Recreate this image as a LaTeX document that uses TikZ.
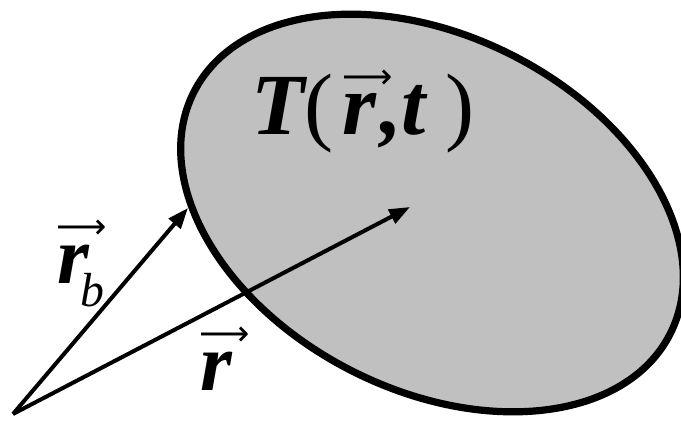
\documentclass[tikz,border=0pt]{standalone}
\usepackage{fontspec}
\setmainfont{Liberation Serif}
\newfontfamily\arrowfont{DejaVu Sans}
\usetikzlibrary{arrows.meta, positioning, shapes.geometric}
\usepackage{xcolor}
\definecolor{blobgray}{HTML}{C0C0C0}

% thin arrow set over a letter
\newsavebox{\vecbox}
\newcommand{\arrvec}[1]{\sbox{\vecbox}{#1}%
  \rlap{\hbox to\wd\vecbox{\hss\raisebox{\dimexpr\ht\vecbox+4pt\relax}{\hskip12pt%
    {\arrowfont\mdseries\upshape\fontsize{25}{25}\selectfont\char"27F6}}\hss}}%
  \usebox{\vecbox}}

\begin{document}
\begin{tikzpicture}[
    x=0.025cm, y=0.025cm,
    blob/.style={ellipse, draw=black, fill=blobgray, line width=0.18cm,
                 minimum width=13.35cm, minimum height=8.85cm,
                 inner sep=0pt, rotate=-26.9},
    vecline/.style={line width=0.1cm, -{Triangle[length=0.52cm, width=0.38cm]}},
    lbl/.style={font=\fontsize{58}{64}\selectfont\bfseries\itshape, inner sep=0pt},
    biglbl/.style={lbl, font=\fontsize{62}{68}\selectfont\bfseries\itshape},
  ]
  \useasboundingbox (0,0) rectangle (681,421);

  \node[blob] (body) at (432,208) {};

  \coordinate (o)  at (13,7);
  \coordinate (rb) at (188,213);
  \coordinate (r)  at (410,214);

  \draw[vecline] (o) -- (rb);
  \draw[vecline] (o) -- (r);

  \node[biglbl, anchor=base west] (temp) at (251,286)
    {T{\mdseries\upshape(}\kern6pt\arrvec{r}\kern3pt,t\kern14pt{\mdseries\upshape)}};
  \node[lbl, anchor=base west] (rblbl) at (57,138)
    {\arrvec{r}\kern-6pt\raisebox{-17pt}{\mdseries\fontsize{34}{34}\selectfont b}};
  \node[lbl, anchor=base west] (rlbl) at (200,31) {\arrvec{r}};
\end{tikzpicture}
\end{document}
